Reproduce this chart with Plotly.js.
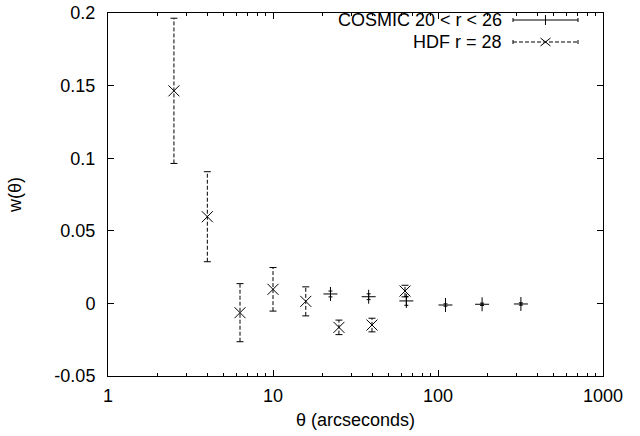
<!DOCTYPE html>
<html>
<head>
<meta charset="utf-8">
<script src="https://cdn.plot.ly/plotly-3.0.1.min.js"></script>
<style>html,body{margin:0;padding:0;background:#fff;}#chart{width:640px;height:436px;}</style>
</head>
<body>
<div id="chart"></div>
<script>
// COSMIC 20 < r < 26
const cosmicTheta = [22.3, 38.0, 64.3, 111, 185, 318];
const cosmicW     = [0.0065, 0.0046, 0.0017, -0.0011, -0.0006, -0.0004];
const cosmicErr   = [0.002, 0.002, 0.003, 0.0008, 0.0008, 0.0008];

// HDF r = 28
const hdfTheta = [2.51, 4.0, 6.31, 10.0, 15.8, 25.1, 39.8, 63.1];
const hdfW     = [0.1464, 0.0597, -0.0064, 0.0097, 0.0014, -0.0165, -0.0149, 0.0085];
const hdfErr   = [0.050, 0.031, 0.020, 0.015, 0.010, 0.005, 0.0047, 0.004];

const xTickVals = [1, 10, 100, 1000];
const xTickText = ['1', '10', '100', '1000'];
const xMinorVals = [2,3,4,5,6,7,8,9,20,30,40,50,60,70,80,90,200,300,400,500,600,700,800,900];
const yTickVals = [-0.05, 0, 0.05, 0.1, 0.15, 0.2];
const yTickText = ['-0.05', '0', '0.05', '0.1', '0.15', '0.2'];

const legendLabels = ['COSMIC 20 < r < 26', 'HDF r = 28'];

const FONT = 'Liberation Sans, Arial, Helvetica, sans-serif';

// dashed error bars for HDF built from data
const barX = [], barY = [], capX = [], capY = [];
hdfTheta.forEach((t, i) => {
  barX.push(t, t, null);
  barY.push(hdfW[i] - hdfErr[i], hdfW[i] + hdfErr[i], null);
  capX.push(t, t);
  capY.push(hdfW[i] - hdfErr[i], hdfW[i] + hdfErr[i]);
});

const traces = [
  {
    x: barX, y: barY, mode: 'lines', type: 'scatter',
    line: {color: '#000', width: 1, dash: '4px,2px'},
    hoverinfo: 'skip', showlegend: false
  },
  {
    x: capX, y: capY, mode: 'markers', type: 'scatter',
    marker: {symbol: 'line-ew', size: 5, line: {color: '#000', width: 1}},
    hoverinfo: 'skip', showlegend: false
  },
  {
    x: hdfTheta, y: hdfW, mode: 'markers', type: 'scatter', name: legendLabels[1],
    marker: {symbol: 'x-thin-open', size: 11, color: '#000', line: {color: '#000', width: 1}},
    showlegend: false
  },
  {
    x: cosmicTheta, y: cosmicW, mode: 'markers', type: 'scatter', name: legendLabels[0],
    marker: {symbol: 'cross-thin-open', size: 10, color: '#000', line: {color: '#000', width: 1}},
    error_y: {type: 'data', array: cosmicErr, visible: true, color: '#000', thickness: 1, width: 2},
    showlegend: false
  },
  {
    x: [], y: [], xaxis: 'x2', yaxis: 'y', mode: 'markers', type: 'scatter',
    showlegend: false, hoverinfo: 'skip'
  }
];

// custom gnuplot-style key (text right, sample on the right)
const rowY = [0.9807, 0.9201];
const textX = 0.800;
const lineX0 = 0.8182, lineX1 = 0.9495, midX = 0.8838;

const shapes = [];
const annotations = [];
[0, 1].forEach(r => {
  const dash = r === 0 ? 'solid' : '4px,2px';
  shapes.push({type: 'line', xref: 'paper', yref: 'paper', x0: lineX0, x1: lineX1, y0: rowY[r], y1: rowY[r],
    line: {color: '#000', width: 1, dash: dash}});
  [lineX0, lineX1].forEach(ax => {
    shapes.push({type: 'line', xref: 'paper', yref: 'paper', xsizemode: 'pixel', ysizemode: 'pixel',
      xanchor: ax, yanchor: rowY[r], x0: 0, x1: 0, y0: -2, y1: 2, line: {color: '#000', width: 1}});
  });
  if (r === 0) {
    shapes.push({type: 'line', xref: 'paper', yref: 'paper', xsizemode: 'pixel', ysizemode: 'pixel',
      xanchor: midX, yanchor: rowY[r], x0: 0, x1: 0, y0: -5, y1: 5, line: {color: '#000', width: 1}});
  } else {
    shapes.push({type: 'line', xref: 'paper', yref: 'paper', xsizemode: 'pixel', ysizemode: 'pixel',
      xanchor: midX, yanchor: rowY[r], x0: -5, x1: 5, y0: -4, y1: 4, line: {color: '#000', width: 1}});
    shapes.push({type: 'line', xref: 'paper', yref: 'paper', xsizemode: 'pixel', ysizemode: 'pixel',
      xanchor: midX, yanchor: rowY[r], x0: -5, x1: 5, y0: 4, y1: -4, line: {color: '#000', width: 1}});
  }
  annotations.push({xref: 'paper', yref: 'paper', x: textX, y: rowY[r], xanchor: 'right', yanchor: 'middle',
    text: legendLabels[r], showarrow: false, font: {family: FONT, size: 18, color: '#000'}});
});

const layout = {
  width: 640, height: 436,
  margin: {l: 108, r: 37, t: 13, b: 60, pad: 0},
  paper_bgcolor: '#fff', plot_bgcolor: '#fff',
  font: {family: FONT, size: 18, color: '#000'},
  showlegend: false,
  xaxis: {
    type: 'log', range: [0, 3], tickvals: xTickVals, ticktext: xTickText,
    ticks: 'inside', ticklen: 6, tickwidth: 1, tickcolor: '#000',
    showline: true, linecolor: '#000', linewidth: 1, mirror: 'ticks',
    showgrid: false, zeroline: false, ticklabelstandoff: 3,
    title: {text: 'θ (arcseconds)', font: {family: FONT, size: 18}, standoff: 8},
    automargin: false
  },
  xaxis2: {
    type: 'log', range: [0, 3], overlaying: 'x', anchor: 'y', side: 'bottom',
    tickvals: xMinorVals, ticks: 'inside', ticklen: 3, tickwidth: 1, tickcolor: '#000',
    showticklabels: false, showline: false, mirror: 'ticks', showgrid: false, zeroline: false,
    automargin: false
  },
  yaxis: {
    range: [-0.05, 0.2], tickvals: yTickVals, ticktext: yTickText,
    ticks: 'inside', ticklen: 6, tickwidth: 1, tickcolor: '#000',
    showline: true, linecolor: '#000', linewidth: 1, mirror: 'ticks',
    showgrid: false, zeroline: false, ticklabelstandoff: 8,
    title: {text: 'w(θ)', font: {family: FONT, size: 18}, standoff: 28},
    automargin: false
  },
  shapes: shapes,
  annotations: annotations
};

Plotly.newPlot('chart', traces, layout, {staticPlot: true, displayModeBar: false});
</script>
</body>
</html>
